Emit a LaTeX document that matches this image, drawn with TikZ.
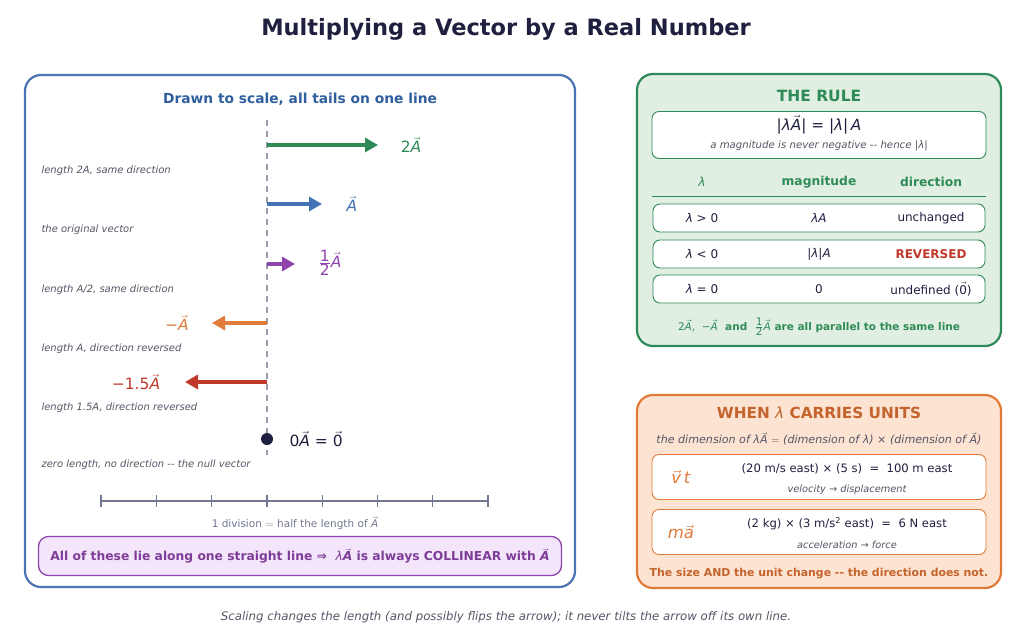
\documentclass[tikz,border=0pt]{standalone}
\usepackage{amsmath}
\usepackage{fontspec}
\setmainfont{DejaVu Sans}
\usetikzlibrary{arrows.meta}

\definecolor{titlenavy}{HTML}{1F1F3F}
\definecolor{panelblue}{HTML}{4A74B4}
\definecolor{headblue}{HTML}{2F5F9F}
\definecolor{vgreen}{HTML}{2E8B57}
\definecolor{vblue}{HTML}{4472B4}
\definecolor{vpurple}{HTML}{8E44AD}
\definecolor{vorange}{HTML}{E07B39}
\definecolor{vred}{HTML}{C0392B}
\definecolor{descgray}{HTML}{555566}
\definecolor{rulegray}{HTML}{737890}
\definecolor{dashgray}{HTML}{9A9AAE}
\definecolor{greenfill}{HTML}{E1EFE2}
\definecolor{peachfill}{HTML}{FDE3D2}
\definecolor{unitorange}{HTML}{C4642C}
\definecolor{purplefill}{HTML}{F4E6FA}
\definecolor{purpletext}{HTML}{7D3C98}

\newcommand{\vA}{\ensuremath{\vec{\mbox{\itshape A}}}}
\newcommand{\vZ}{\ensuremath{\vec{\mbox{0}}}}
\newcommand{\lam}{{\mdseries\itshape λ}}

\tikzset{
  panel/.style={rounded corners=16pt, line width=2.2pt},
  rowbox/.style={draw=vgreen, line width=0.9pt, fill=white, rounded corners=7pt,
    minimum width=332pt, minimum height=28pt, inner sep=0pt},
  unitbox/.style={draw=vorange, line width=0.9pt, fill=white, rounded corners=7pt,
    minimum width=334pt, minimum height=45pt, inner sep=0pt},
  vec/.style={line width=3.5pt, -{Triangle[length=13pt,width=14pt]}},
  desc/.style={anchor=west, font=\fontsize{10}{12}\selectfont\itshape, text=descgray},
  vlabel/.style={font=\fontsize{15.5}{18}\selectfont},
  cell/.style={font=\fontsize{12}{14}\selectfont, text=titlenavy},
  small/.style={font=\fontsize{10.2}{12}\selectfont\itshape, text=descgray},
}

\begin{document}
\begin{tikzpicture}[x=1pt,y=-1pt]
\useasboundingbox (0,0) rectangle (1024,642);

\node[font=\fontsize{22.5}{26}\selectfont\bfseries, text=titlenavy] (title) at (506,29)
  {Multiplying a Vector by a Real Number};

% left panel
\draw[panel, draw=panelblue, fill=white] (25,75) rectangle (575,587);
\node[font=\fontsize{13.8}{16}\selectfont\bfseries, text=headblue] (scalehead) at (300,99)
  {Drawn to scale, all tails on one line};

\coordinate (axtop) at (267,120);
\coordinate (axbot) at (267,455);
\draw[dashgray, line width=1.2pt, dash pattern=on 6pt off 5pt] (axtop) -- (axbot);

% vectors
\coordinate (t1) at (267,145); \coordinate (h1) at (378,145);
\coordinate (t2) at (267,204); \coordinate (h2) at (322,204);
\coordinate (t3) at (267,264); \coordinate (h3) at (295,264);
\coordinate (t4) at (267,323); \coordinate (h4) at (212,323);
\coordinate (t5) at (267,382); \coordinate (h5) at (185,382);
\draw[vec, vgreen] (t1) -- (h1);
\draw[vec, vblue] (t2) -- (h2);
\draw[vec, vpurple] (t3) -- (h3);
\draw[vec, vorange] (t4) -- (h4);
\draw[vec, vred] (t5) -- (h5);

\node[vlabel, text=vgreen] (l1) at (411,145) {2\vA};
\node[vlabel, text=vblue] (l2) at (352,204) {\vA};
\node[vlabel, text=vpurple] (l3) at (330,263) {$\frac{\mbox{1}}{\mbox{2}}$\vA};
\node[vlabel, text=vorange] (l4) at (177,323) {−\vA};
\node[vlabel, text=vred] (l5) at (136,382) {−1.5\vA};

\node[circle, fill=titlenavy, inner sep=0pt, minimum size=12pt] (zero) at (267,439) {};
\node[vlabel, text=titlenavy, anchor=west] (l6) at (286,439) {0\vA{} = \vZ};

\node[desc] (d1) at (38,171) {length 2\textit{A}, same direction};
\node[desc] (d2) at (38,230) {the original vector};
\node[desc] (d3) at (38,290) {length \textit{A}/2, same direction};
\node[desc] (d4) at (38,349) {length \textit{A}, direction reversed};
\node[desc] (d5) at (38,408) {length 1.5\textit{A}, direction reversed};
\node[desc] (d6) at (38,465) {zero length, no direction -{}- the null vector};

% ruler
\coordinate (rl) at (101,501);
\coordinate (rr) at (488,501);
\draw[rulegray, line width=1.3pt] (rl) -- (rr);
\foreach \i in {0,...,7} {
    \draw[rulegray, line width=1.3pt] (101+\i*55.29,495) -- ++(0,12);
}
\node[font=\fontsize{10.5}{12}\selectfont, text=rulegray] (rulecap) at (295,523)
  {1 division $=$ half the length of \vA};

\node[draw=vpurple, line width=1.3pt, fill=purplefill, rounded corners=10pt,
  minimum width=523pt, minimum height=39pt,
  font=\fontsize{12.3}{14}\selectfont\bfseries, text=purpletext] (collin) at (300,556)
  {All of these lie along one straight line ⇒\ \ \lam\vA{} is always COLLINEAR with \vA};

% the rule
\draw[panel, draw=vgreen, fill=greenfill] (637,74) rectangle (1001,346);
\node[font=\fontsize{15.5}{18}\selectfont\bfseries, text=vgreen] (rulehead) at (819,96) {THE RULE};
\node[rowbox, minimum width=334pt, minimum height=47pt] (formbox) at (819,135) {};
\node[font=\fontsize{15.3}{18}\selectfont, text=titlenavy] (form) at (819,125)
  {|\lam\vA| = |\lam|\,\textit{A}};
\node[small] (formcap) at (819,146) {a magnitude is never negative -{}- hence |\lam|};

\node[font=\fontsize{12.3}{14}\selectfont, text=vgreen] (hl) at (702,182) {\lam};
\node[font=\fontsize{12.3}{14}\selectfont\bfseries, text=vgreen] (hm) at (819,182) {magnitude};
\node[font=\fontsize{12.3}{14}\selectfont\bfseries, text=vgreen] (hd) at (931,182) {direction};
\coordinate (linel) at (652,196);
\coordinate (liner) at (986,196);
\draw[vgreen, line width=1pt] (linel) -- (liner);

\node[rowbox] (row1) at (819,218) {};
\node[rowbox] (row2) at (819,254) {};
\node[rowbox] (row3) at (819,289) {};
\node[cell] (c11) at (702,218) {\lam{} > 0};
\node[cell] (c12) at (819,218) {\lam\textit{A}};
\node[cell] (c13) at (931,218) {unchanged};
\node[cell] (c21) at (702,254) {\lam{} < 0};
\node[cell] (c22) at (819,254) {|\lam|\textit{A}};
\node[cell, text=vred, font=\fontsize{12}{14}\selectfont\bfseries] (c23) at (931,254) {REVERSED};
\node[cell] (c31) at (702,289) {\lam{} = 0};
\node[cell] (c32) at (819,289) {0};
\node[cell] (c33) at (931,289) {undefined (\vZ)};

\node[font=\fontsize{10.5}{12}\selectfont\bfseries, text=vgreen] (parallel) at (819,327)
  {{\mdseries 2\vA,\ \ −\vA}\ \ and\ \ {\mdseries$\tfrac{\mbox{1}}{\mbox{2}}$\vA} are all parallel to the same line};

% units
\draw[panel, draw=vorange, fill=peachfill] (637,395) rectangle (1001,588);
\node[font=\fontsize{15.3}{18}\selectfont\bfseries, text=unitorange] (unithead) at (819,413)
  {WHEN \lam{} CARRIES UNITS};
\node[font=\fontsize{11.1}{13}\selectfont\itshape, text=descgray] (dimline) at (819,439)
  {the dimension of \lam\vA{} $=$ (dimension of \lam) × (dimension of \vA)};

\node[unitbox] (ubox1) at (819,477) {};
\node[font=\fontsize{16.5}{19}\selectfont, text=vorange] (vt) at (681,477)
  {\ensuremath{\vec{\mbox{\itshape v}}}\,\textit{t}};
\node[cell, font=\fontsize{11.6}{14}\selectfont] (vtline) at (847,469) {(20 m/s east) × (5 s)\ \ =\ \ 100 m east};
\node[small, font=\fontsize{9.8}{12}\selectfont\itshape] (vtcap) at (847,490) {velocity → displacement};

\node[unitbox] (ubox2) at (819,532) {};
\node[font=\fontsize{16.5}{19}\selectfont, text=vorange] (ma) at (681,532)
  {\textit{m}\ensuremath{\vec{\mbox{\itshape a}}}};
\node[cell, font=\fontsize{11.6}{14}\selectfont] (maline) at (847,524) {(2 kg) × (3 m/s\textsuperscript{2} east)\ \ =\ \ 6 N east};
\node[small, font=\fontsize{9.8}{12}\selectfont\itshape] (macap) at (847,545) {acceleration → force};

\node[font=\fontsize{10.9}{13}\selectfont\bfseries, text=unitorange] (unitfoot) at (819,574)
  {The size AND the unit change -{}- the direction does not.};

\node[font=\fontsize{11.8}{14}\selectfont\itshape, text=descgray] (footer) at (506,617)
  {Scaling changes the length (and possibly flips the arrow); it never tilts the arrow off its own line.};

\end{tikzpicture}
\end{document}
